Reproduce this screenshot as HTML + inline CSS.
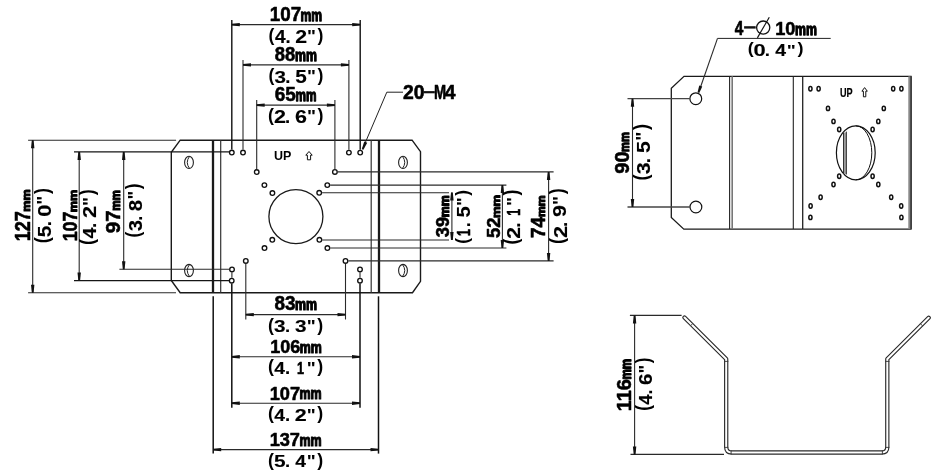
<!DOCTYPE html>
<html><head><meta charset="utf-8"><style>
html,body{margin:0;padding:0;background:#fff;width:948px;height:475px;overflow:hidden}
svg{display:block;filter:grayscale(1)}
text{font-family:"Liberation Sans",sans-serif;font-weight:bold}
</style></head><body>
<svg width="948" height="475" viewBox="0 0 948 475">
<rect width="948" height="475" fill="#fff"/>
<polygon points="180.2,140.2 412.1,140.2 420.5,151.7 420.5,281.4 412.5,292.7 180.2,292.7 171.3,280.5 171.3,152.3" fill="none" stroke="#1a1a1a" stroke-width="1.4"/>
<line x1="213" y1="140.2" x2="213" y2="292.7" stroke="#1a1a1a" stroke-width="2.3"/>
<line x1="220.7" y1="140.2" x2="220.7" y2="292.7" stroke="#333" stroke-width="1.2"/>
<line x1="371.2" y1="140.2" x2="371.2" y2="292.7" stroke="#333" stroke-width="1.2"/>
<line x1="379" y1="140.2" x2="379" y2="292.6" stroke="#1a1a1a" stroke-width="2.3"/>
<ellipse cx="189" cy="162.4" rx="4.4" ry="6.1" fill="none" stroke="#222" stroke-width="1.1"/>
<path d="M189.5,156.4 Q185,162.4 189.5,168.4" fill="none" stroke="#222" stroke-width="1"/>
<ellipse cx="403" cy="162.4" rx="4.4" ry="6.1" fill="none" stroke="#222" stroke-width="1.1"/>
<path d="M402.5,156.4 Q407,162.4 402.5,168.4" fill="none" stroke="#222" stroke-width="1"/>
<ellipse cx="189" cy="270.5" rx="4.4" ry="6.1" fill="none" stroke="#222" stroke-width="1.1"/>
<path d="M189.5,264.5 Q185,270.5 189.5,276.5" fill="none" stroke="#222" stroke-width="1"/>
<ellipse cx="403" cy="270.5" rx="4.4" ry="6.1" fill="none" stroke="#222" stroke-width="1.1"/>
<path d="M402.5,264.5 Q407,270.5 402.5,276.5" fill="none" stroke="#222" stroke-width="1"/>
<circle cx="295.9" cy="216.6" r="27" fill="none" stroke="#1a1a1a" stroke-width="1.3"/>
<circle cx="231.8" cy="152.5" r="2.3" fill="none" stroke="#111" stroke-width="1.35"/>
<circle cx="243" cy="152.5" r="2.3" fill="none" stroke="#111" stroke-width="1.35"/>
<circle cx="348.9" cy="152.6" r="2.3" fill="none" stroke="#111" stroke-width="1.35"/>
<circle cx="360.2" cy="152.6" r="2.3" fill="none" stroke="#111" stroke-width="1.35"/>
<circle cx="256.7" cy="172" r="2.3" fill="none" stroke="#111" stroke-width="1.35"/>
<circle cx="334.9" cy="171.9" r="2.3" fill="none" stroke="#111" stroke-width="1.35"/>
<circle cx="264.4" cy="185.1" r="2.3" fill="none" stroke="#111" stroke-width="1.35"/>
<circle cx="327.3" cy="185.1" r="2.3" fill="none" stroke="#111" stroke-width="1.35"/>
<circle cx="272.4" cy="193" r="2.3" fill="none" stroke="#111" stroke-width="1.35"/>
<circle cx="319.2" cy="192.8" r="2.3" fill="none" stroke="#111" stroke-width="1.35"/>
<circle cx="272.3" cy="239.8" r="2.3" fill="none" stroke="#111" stroke-width="1.35"/>
<circle cx="319.4" cy="239.8" r="2.3" fill="none" stroke="#111" stroke-width="1.35"/>
<circle cx="264.5" cy="248" r="2.3" fill="none" stroke="#111" stroke-width="1.35"/>
<circle cx="327.4" cy="248" r="2.3" fill="none" stroke="#111" stroke-width="1.35"/>
<circle cx="245.8" cy="260.9" r="2.3" fill="none" stroke="#111" stroke-width="1.35"/>
<circle cx="345.5" cy="260.9" r="2.3" fill="none" stroke="#111" stroke-width="1.35"/>
<circle cx="232" cy="269.4" r="2.3" fill="none" stroke="#111" stroke-width="1.35"/>
<circle cx="360" cy="269.4" r="2.3" fill="none" stroke="#111" stroke-width="1.35"/>
<circle cx="231.7" cy="280.7" r="2.3" fill="none" stroke="#111" stroke-width="1.35"/>
<circle cx="360" cy="280.7" r="2.3" fill="none" stroke="#111" stroke-width="1.35"/>
<text transform="translate(274.05,159.76) scale(0.9185,1)" font-size="13.62" fill="#000">UP</text>
<path d="M309,151.5 L305.8,155.2 L307.4,155.2 L307.4,159.8 L310.6,159.8 L310.6,155.2 L312.2,155.2 Z" fill="none" stroke="#111" stroke-width="1.0" stroke-linejoin="miter"/>
<line x1="231.8" y1="20" x2="231.8" y2="149.6" stroke="#111" stroke-width="1.4"/>
<line x1="360.2" y1="20" x2="360.2" y2="149.7" stroke="#111" stroke-width="1.4"/>
<line x1="231.8" y1="24.6" x2="360.2" y2="24.6" stroke="#2a2a2a" stroke-width="1.1"/>
<polygon points="231.80,23.70 239.80,22.90 239.80,26.30 231.80,25.50" fill="#111"/>
<polygon points="360.20,25.50 352.20,26.30 352.20,22.90 360.20,23.70" fill="#111"/>
<text transform="translate(269.80,20.63) scale(0.9527,1)" font-size="19.72" fill="#000" stroke="#000" stroke-width="0.55" vector-effect="non-scaling-stroke" stroke-linejoin="round">107</text>
<text transform="translate(300.56,20.55) scale(0.7030,1)" font-size="17.30" fill="#000" stroke="#000" stroke-width="1.1" vector-effect="non-scaling-stroke" stroke-linejoin="round">mm</text>
<text transform="translate(268.61,40.68) scale(0.9374,1)" font-size="18.87" fill="#000">(</text>
<text transform="translate(274.93,42.66) scale(1.0680,1)" font-size="17.94" fill="#000" stroke="#000" stroke-width="0.15" vector-effect="non-scaling-stroke" stroke-linejoin="round">4</text>
<text transform="translate(285.47,42.66) scale(1.0225,1)" font-size="18.01" fill="#000" stroke="#000" stroke-width="0.15" vector-effect="non-scaling-stroke" stroke-linejoin="round">.</text>
<text transform="translate(295.28,42.66) scale(1.2077,1)" font-size="17.69" fill="#000" stroke="#000" stroke-width="0.15" vector-effect="non-scaling-stroke" stroke-linejoin="round">2</text>
<text transform="translate(307.11,41.87) scale(1.1118,1)" font-size="16.91" fill="#000">&quot;</text>
<text transform="translate(317.60,40.68) scale(0.9374,1)" font-size="18.87" fill="#000">)</text>
<line x1="243" y1="60" x2="243" y2="149.6" stroke="#2a2a2a" stroke-width="1.1"/>
<line x1="348.9" y1="60" x2="348.9" y2="149.7" stroke="#2a2a2a" stroke-width="1.1"/>
<line x1="243" y1="64.9" x2="348.9" y2="64.9" stroke="#2a2a2a" stroke-width="1.1"/>
<polygon points="243.00,64.00 251.00,63.20 251.00,66.60 243.00,65.80" fill="#111"/>
<polygon points="348.90,65.80 340.90,66.60 340.90,63.20 348.90,64.00" fill="#111"/>
<text transform="translate(274.77,60.92) scale(0.9108,1)" font-size="20.28" fill="#000" stroke="#000" stroke-width="0.55" vector-effect="non-scaling-stroke" stroke-linejoin="round">88</text>
<text transform="translate(295.05,60.85) scale(0.7135,1)" font-size="17.30" fill="#000" stroke="#000" stroke-width="1.1" vector-effect="non-scaling-stroke" stroke-linejoin="round">mm</text>
<text transform="translate(268.41,80.98) scale(0.9374,1)" font-size="18.87" fill="#000">(</text>
<text transform="translate(274.56,82.74) scale(1.1861,1)" font-size="17.38" fill="#000" stroke="#000" stroke-width="0.15" vector-effect="non-scaling-stroke" stroke-linejoin="round">3</text>
<text transform="translate(285.27,82.96) scale(1.0225,1)" font-size="18.01" fill="#000" stroke="#000" stroke-width="0.15" vector-effect="non-scaling-stroke" stroke-linejoin="round">.</text>
<text transform="translate(295.15,82.78) scale(1.1711,1)" font-size="17.69" fill="#000" stroke="#000" stroke-width="0.15" vector-effect="non-scaling-stroke" stroke-linejoin="round">5</text>
<text transform="translate(306.91,82.17) scale(1.1118,1)" font-size="16.91" fill="#000">&quot;</text>
<text transform="translate(317.40,80.98) scale(0.9374,1)" font-size="18.87" fill="#000">)</text>
<line x1="256.7" y1="100" x2="256.7" y2="169.1" stroke="#2a2a2a" stroke-width="1.1"/>
<line x1="334.9" y1="100" x2="334.9" y2="169.0" stroke="#2a2a2a" stroke-width="1.1"/>
<line x1="256.7" y1="105.1" x2="334.9" y2="105.1" stroke="#2a2a2a" stroke-width="1.1"/>
<polygon points="256.70,104.20 264.70,103.40 264.70,106.80 256.70,106.00" fill="#111"/>
<polygon points="334.90,106.00 326.90,106.80 326.90,103.40 334.90,104.20" fill="#111"/>
<text transform="translate(274.76,101.13) scale(0.9703,1)" font-size="19.58" fill="#000" stroke="#000" stroke-width="0.55" vector-effect="non-scaling-stroke" stroke-linejoin="round">65</text>
<text transform="translate(295.58,101.05) scale(0.6970,1)" font-size="16.93" fill="#000" stroke="#000" stroke-width="1.1" vector-effect="non-scaling-stroke" stroke-linejoin="round">mm</text>
<text transform="translate(268.11,120.78) scale(0.9461,1)" font-size="18.87" fill="#000">(</text>
<text transform="translate(274.02,122.76) scale(1.2191,1)" font-size="17.69" fill="#000" stroke="#000" stroke-width="0.15" vector-effect="non-scaling-stroke" stroke-linejoin="round">2</text>
<text transform="translate(285.12,122.76) scale(1.0326,1)" font-size="18.01" fill="#000" stroke="#000" stroke-width="0.15" vector-effect="non-scaling-stroke" stroke-linejoin="round">.</text>
<text transform="translate(294.97,122.58) scale(1.2301,1)" font-size="17.44" fill="#000" stroke="#000" stroke-width="0.15" vector-effect="non-scaling-stroke" stroke-linejoin="round">6</text>
<text transform="translate(306.97,121.97) scale(1.1222,1)" font-size="16.91" fill="#000">&quot;</text>
<text transform="translate(317.56,120.78) scale(0.9461,1)" font-size="18.87" fill="#000">)</text>
<line x1="403" y1="92.2" x2="386.8" y2="92.2" stroke="#222" stroke-width="1.0"/>
<line x1="386.8" y1="92.2" x2="363" y2="148" stroke="#222" stroke-width="1.0"/>
<polygon points="361.77,149.15 364.26,141.51 367.21,142.77 363.43,149.85" fill="#111"/>
<text transform="translate(403.00,99.42) scale(0.9355,1)" font-size="20.71" fill="#000" stroke="#000" stroke-width="0.55" vector-effect="non-scaling-stroke" stroke-linejoin="round">20</text>
<line x1="423.5" y1="92.2" x2="434.8" y2="92.2" stroke="#111" stroke-width="2.2"/>
<text transform="translate(434.09,99.42) scale(0.7021,1)" font-size="20.73" fill="#000" stroke="#000" stroke-width="0.55" vector-effect="non-scaling-stroke" stroke-linejoin="round">M</text>
<text transform="translate(444.78,99.42) scale(0.9333,1)" font-size="20.73" fill="#000" stroke="#000" stroke-width="0.55" vector-effect="non-scaling-stroke" stroke-linejoin="round">4</text>
<line x1="28.1" y1="140.2" x2="176.1" y2="140.2" stroke="#2a2a2a" stroke-width="1.1"/>
<line x1="28.1" y1="292.7" x2="176" y2="292.7" stroke="#2a2a2a" stroke-width="1.1"/>
<line x1="74" y1="151.9" x2="229.5" y2="151.9" stroke="#151515" stroke-width="1.3"/>
<line x1="74" y1="280.6" x2="229.4" y2="280.6" stroke="#151515" stroke-width="1.3"/>
<line x1="119.4" y1="269.3" x2="229.7" y2="269.3" stroke="#2a2a2a" stroke-width="1.1"/>
<line x1="32.7" y1="140.2" x2="32.7" y2="292.7" stroke="#2a2a2a" stroke-width="1.1"/>
<polygon points="33.60,140.20 34.40,148.20 31.00,148.20 31.80,140.20" fill="#111"/>
<polygon points="31.80,292.70 31.00,284.70 34.40,284.70 33.60,292.70" fill="#111"/>
<line x1="79.2" y1="151.9" x2="79.2" y2="280.6" stroke="#2a2a2a" stroke-width="1.1"/>
<polygon points="80.10,151.90 80.90,159.90 77.50,159.90 78.30,151.90" fill="#111"/>
<polygon points="78.30,280.60 77.50,272.60 80.90,272.60 80.10,280.60" fill="#111"/>
<line x1="123.7" y1="151.9" x2="123.7" y2="269.3" stroke="#2a2a2a" stroke-width="1.1"/>
<polygon points="124.60,151.90 125.40,159.90 122.00,159.90 122.80,151.90" fill="#111"/>
<polygon points="122.80,269.30 122.00,261.30 125.40,261.30 124.60,269.30" fill="#111"/>
<text transform="rotate(-90) translate(-241.35,30.33) scale(0.8492,1)" font-size="21.29" fill="#000" stroke="#000" stroke-width="0.55" vector-effect="non-scaling-stroke" stroke-linejoin="round">127</text>
<text transform="rotate(-90) translate(-211.77,30.05) scale(1.0912,1)" font-size="11.53" fill="#000" stroke="#000" stroke-width="1.1" vector-effect="non-scaling-stroke" stroke-linejoin="round">mm</text>
<text transform="rotate(-90) translate(-243.29,48.68) scale(0.8951,1)" font-size="19.84" fill="#000">(</text>
<text transform="rotate(-90) translate(-237.33,50.58) scale(1.1176,1)" font-size="18.60" fill="#000" stroke="#000" stroke-width="0.15" vector-effect="non-scaling-stroke" stroke-linejoin="round">5</text>
<text transform="rotate(-90) translate(-226.37,50.76) scale(0.9740,1)" font-size="18.98" fill="#000" stroke="#000" stroke-width="0.15" vector-effect="non-scaling-stroke" stroke-linejoin="round">.</text>
<text transform="rotate(-90) translate(-216.64,50.58) scale(1.1814,1)" font-size="18.34" fill="#000" stroke="#000" stroke-width="0.15" vector-effect="non-scaling-stroke" stroke-linejoin="round">0</text>
<text transform="rotate(-90) translate(-204.65,49.93) scale(1.0617,1)" font-size="17.78" fill="#000">&quot;</text>
<text transform="rotate(-90) translate(-194.12,48.68) scale(0.8951,1)" font-size="19.84" fill="#000">)</text>
<text transform="rotate(-90) translate(-241.34,77.42) scale(0.8727,1)" font-size="20.42" fill="#000" stroke="#000" stroke-width="0.55" vector-effect="non-scaling-stroke" stroke-linejoin="round">107</text>
<text transform="rotate(-90) translate(-212.27,77.35) scale(1.1330,1)" font-size="11.16" fill="#000" stroke="#000" stroke-width="1.1" vector-effect="non-scaling-stroke" stroke-linejoin="round">mm</text>
<text transform="rotate(-90) translate(-245.00,94.35) scale(0.9183,1)" font-size="19.52" fill="#000">(</text>
<text transform="rotate(-90) translate(-238.59,96.39) scale(1.0460,1)" font-size="18.56" fill="#000" stroke="#000" stroke-width="0.15" vector-effect="non-scaling-stroke" stroke-linejoin="round">4</text>
<text transform="rotate(-90) translate(-227.92,96.39) scale(1.0006,1)" font-size="18.66" fill="#000" stroke="#000" stroke-width="0.15" vector-effect="non-scaling-stroke" stroke-linejoin="round">.</text>
<text transform="rotate(-90) translate(-217.98,96.39) scale(1.1828,1)" font-size="18.30" fill="#000" stroke="#000" stroke-width="0.15" vector-effect="non-scaling-stroke" stroke-linejoin="round">2</text>
<text transform="rotate(-90) translate(-205.99,95.58) scale(1.0892,1)" font-size="17.49" fill="#000">&quot;</text>
<text transform="rotate(-90) translate(-195.36,94.35) scale(0.9183,1)" font-size="19.52" fill="#000">)</text>
<text transform="rotate(-90) translate(-233.15,120.03) scale(1.0640,1)" font-size="19.43" fill="#000" stroke="#000" stroke-width="0.55" vector-effect="non-scaling-stroke" stroke-linejoin="round">97</text>
<text transform="rotate(-90) translate(-210.81,119.95) scale(0.9758,1)" font-size="11.91" fill="#000" stroke="#000" stroke-width="1.1" vector-effect="non-scaling-stroke" stroke-linejoin="round">mm</text>
<text transform="rotate(-90) translate(-237.38,139.68) scale(0.8752,1)" font-size="19.84" fill="#000">(</text>
<text transform="rotate(-90) translate(-231.35,141.53) scale(1.1064,1)" font-size="18.28" fill="#000" stroke="#000" stroke-width="0.15" vector-effect="non-scaling-stroke" stroke-linejoin="round">3</text>
<text transform="rotate(-90) translate(-220.83,141.76) scale(0.9511,1)" font-size="18.98" fill="#000" stroke="#000" stroke-width="0.15" vector-effect="non-scaling-stroke" stroke-linejoin="round">.</text>
<text transform="rotate(-90) translate(-211.14,141.58) scale(1.1137,1)" font-size="18.34" fill="#000" stroke="#000" stroke-width="0.15" vector-effect="non-scaling-stroke" stroke-linejoin="round">8</text>
<text transform="rotate(-90) translate(-199.59,140.93) scale(1.0380,1)" font-size="17.78" fill="#000">&quot;</text>
<text transform="rotate(-90) translate(-189.30,139.68) scale(0.8752,1)" font-size="19.84" fill="#000">)</text>
<line x1="337.8" y1="171.9" x2="553.6" y2="171.9" stroke="#2a2a2a" stroke-width="1.1"/>
<line x1="348.40000000000003" y1="260.9" x2="553.6" y2="260.9" stroke="#2a2a2a" stroke-width="1.1"/>
<line x1="330.20000000000005" y1="185.1" x2="506.4" y2="185.1" stroke="#2a2a2a" stroke-width="1.1"/>
<line x1="330.3" y1="248" x2="506.4" y2="248" stroke="#2a2a2a" stroke-width="1.1"/>
<line x1="322.1" y1="192.7" x2="449" y2="192.7" stroke="#2a2a2a" stroke-width="1.1"/>
<line x1="322.3" y1="240" x2="449" y2="240" stroke="#2a2a2a" stroke-width="1.1"/>
<line x1="451.9" y1="192.6" x2="451.9" y2="239.9" stroke="#2a2a2a" stroke-width="1.1"/>
<polygon points="452.80,192.60 453.60,200.60 450.20,200.60 451.00,192.60" fill="#111"/>
<polygon points="451.00,239.90 450.20,231.90 453.60,231.90 452.80,239.90" fill="#111"/>
<line x1="502.4" y1="185.1" x2="502.4" y2="248" stroke="#2a2a2a" stroke-width="1.1"/>
<polygon points="503.30,185.10 504.10,193.10 500.70,193.10 501.50,185.10" fill="#111"/>
<polygon points="501.50,248.00 500.70,240.00 504.10,240.00 503.30,248.00" fill="#111"/>
<line x1="548.6" y1="171.9" x2="548.6" y2="260.9" stroke="#2a2a2a" stroke-width="1.1"/>
<polygon points="549.50,171.90 550.30,179.90 546.90,179.90 547.70,171.90" fill="#111"/>
<polygon points="547.70,260.90 546.90,252.90 550.30,252.90 549.50,260.90" fill="#111"/>
<text transform="rotate(-90) translate(-237.14,448.71) scale(1.0430,1)" font-size="17.54" fill="#000" stroke="#000" stroke-width="0.55" vector-effect="non-scaling-stroke" stroke-linejoin="round">39</text>
<text transform="rotate(-90) translate(-217.26,448.65) scale(1.0308,1)" font-size="12.09" fill="#000" stroke="#000" stroke-width="1.1" vector-effect="non-scaling-stroke" stroke-linejoin="round">mm</text>
<text transform="rotate(-90) translate(-243.78,467.84) scale(0.9096,1)" font-size="19.09" fill="#000">(</text>
<text transform="rotate(-90) translate(-235.89,469.66) scale(0.6976,1)" font-size="17.64" fill="#000" stroke="#000" stroke-width="0.5" vector-effect="non-scaling-stroke" stroke-linejoin="round">1</text>
<text transform="rotate(-90) translate(-227.23,469.84) scale(0.9905,1)" font-size="18.23" fill="#000" stroke="#000" stroke-width="0.15" vector-effect="non-scaling-stroke" stroke-linejoin="round">.</text>
<text transform="rotate(-90) translate(-217.53,469.66) scale(1.1359,1)" font-size="17.89" fill="#000" stroke="#000" stroke-width="0.15" vector-effect="non-scaling-stroke" stroke-linejoin="round">5</text>
<text transform="rotate(-90) translate(-205.99,469.04) scale(1.0789,1)" font-size="17.10" fill="#000">&quot;</text>
<text transform="rotate(-90) translate(-195.70,467.84) scale(0.9096,1)" font-size="19.09" fill="#000">)</text>
<text transform="rotate(-90) translate(-237.92,500.04) scale(0.9931,1)" font-size="18.59" fill="#000" stroke="#000" stroke-width="0.55" vector-effect="non-scaling-stroke" stroke-linejoin="round">52</text>
<text transform="rotate(-90) translate(-218.00,499.95) scale(1.1332,1)" font-size="11.53" fill="#000" stroke="#000" stroke-width="1.1" vector-effect="non-scaling-stroke" stroke-linejoin="round">mm</text>
<text transform="rotate(-90) translate(-244.49,517.79) scale(0.9149,1)" font-size="19.30" fill="#000">(</text>
<text transform="rotate(-90) translate(-238.64,519.81) scale(1.1783,1)" font-size="18.09" fill="#000" stroke="#000" stroke-width="0.15" vector-effect="non-scaling-stroke" stroke-linejoin="round">2</text>
<text transform="rotate(-90) translate(-227.66,519.81) scale(0.9966,1)" font-size="18.44" fill="#000" stroke="#000" stroke-width="0.15" vector-effect="non-scaling-stroke" stroke-linejoin="round">.</text>
<text transform="rotate(-90) translate(-215.71,519.64) scale(0.7023,1)" font-size="17.85" fill="#000" stroke="#000" stroke-width="0.5" vector-effect="non-scaling-stroke" stroke-linejoin="round">1</text>
<text transform="rotate(-90) translate(-206.06,519.01) scale(1.0851,1)" font-size="17.30" fill="#000">&quot;</text>
<text transform="rotate(-90) translate(-195.59,517.79) scale(0.9149,1)" font-size="19.30" fill="#000">)</text>
<text transform="rotate(-90) translate(-238.03,545.33) scale(0.9169,1)" font-size="20.58" fill="#000" stroke="#000" stroke-width="0.55" vector-effect="non-scaling-stroke" stroke-linejoin="round">74</text>
<text transform="rotate(-90) translate(-216.94,545.05) scale(1.1887,1)" font-size="10.23" fill="#000" stroke="#000" stroke-width="1.1" vector-effect="non-scaling-stroke" stroke-linejoin="round">mm</text>
<text transform="rotate(-90) translate(-244.00,564.48) scale(0.9034,1)" font-size="19.84" fill="#000">(</text>
<text transform="rotate(-90) translate(-238.06,566.56) scale(1.1634,1)" font-size="18.60" fill="#000" stroke="#000" stroke-width="0.15" vector-effect="non-scaling-stroke" stroke-linejoin="round">2</text>
<text transform="rotate(-90) translate(-226.92,566.56) scale(0.9835,1)" font-size="18.98" fill="#000" stroke="#000" stroke-width="0.15" vector-effect="non-scaling-stroke" stroke-linejoin="round">.</text>
<text transform="rotate(-90) translate(-216.98,566.38) scale(1.1679,1)" font-size="18.34" fill="#000" stroke="#000" stroke-width="0.15" vector-effect="non-scaling-stroke" stroke-linejoin="round">9</text>
<text transform="rotate(-90) translate(-204.99,565.73) scale(1.0715,1)" font-size="17.78" fill="#000">&quot;</text>
<text transform="rotate(-90) translate(-194.36,564.48) scale(0.9034,1)" font-size="19.84" fill="#000">)</text>
<line x1="213.2" y1="296.3" x2="213.2" y2="453.6" stroke="#111" stroke-width="1.5"/>
<line x1="378.5" y1="296.3" x2="378.5" y2="453.6" stroke="#111" stroke-width="1.5"/>
<line x1="245.8" y1="263.8" x2="245.8" y2="319.5" stroke="#2a2a2a" stroke-width="1.1"/>
<line x1="345.5" y1="263.8" x2="345.5" y2="319.5" stroke="#2a2a2a" stroke-width="1.1"/>
<line x1="231.8" y1="283.6" x2="231.8" y2="407.8" stroke="#111" stroke-width="1.5"/>
<line x1="360" y1="283.6" x2="360" y2="407.8" stroke="#111" stroke-width="1.5"/>
<line x1="231.9" y1="272.3" x2="231.9" y2="277.79999999999995" stroke="#2a2a2a" stroke-width="1.1"/>
<line x1="360" y1="272.3" x2="360" y2="277.79999999999995" stroke="#2a2a2a" stroke-width="1.1"/>
<line x1="245.8" y1="314.6" x2="345.5" y2="314.6" stroke="#2a2a2a" stroke-width="1.1"/>
<polygon points="245.80,313.70 253.80,312.90 253.80,316.30 245.80,315.50" fill="#111"/>
<polygon points="345.50,315.50 337.50,316.30 337.50,312.90 345.50,313.70" fill="#111"/>
<line x1="231.8" y1="356.8" x2="360" y2="356.8" stroke="#2a2a2a" stroke-width="1.1"/>
<polygon points="231.80,355.90 239.80,355.10 239.80,358.50 231.80,357.70" fill="#111"/>
<polygon points="360.00,357.70 352.00,358.50 352.00,355.10 360.00,355.90" fill="#111"/>
<line x1="231.8" y1="403.2" x2="360" y2="403.2" stroke="#2a2a2a" stroke-width="1.1"/>
<polygon points="231.80,402.30 239.80,401.50 239.80,404.90 231.80,404.10" fill="#111"/>
<polygon points="360.00,404.10 352.00,404.90 352.00,401.50 360.00,402.30" fill="#111"/>
<line x1="213.2" y1="449.6" x2="378.5" y2="449.6" stroke="#2a2a2a" stroke-width="1.1"/>
<polygon points="213.20,448.70 221.20,447.90 221.20,451.30 213.20,450.50" fill="#111"/>
<polygon points="378.50,450.50 370.50,451.30 370.50,447.90 378.50,448.70" fill="#111"/>
<text transform="translate(274.46,310.48) scale(0.9712,1)" font-size="19.51" fill="#000" stroke="#000" stroke-width="0.55" vector-effect="non-scaling-stroke" stroke-linejoin="round">83</text>
<text transform="translate(295.04,310.45) scale(0.7492,1)" font-size="16.56" fill="#000" stroke="#000" stroke-width="1.1" vector-effect="non-scaling-stroke" stroke-linejoin="round">mm</text>
<text transform="translate(267.91,330.52) scale(0.9777,1)" font-size="18.23" fill="#000">(</text>
<text transform="translate(274.10,332.21) scale(1.2377,1)" font-size="16.78" fill="#000" stroke="#000" stroke-width="0.15" vector-effect="non-scaling-stroke" stroke-linejoin="round">3</text>
<text transform="translate(284.89,332.42) scale(1.0691,1)" font-size="17.36" fill="#000" stroke="#000" stroke-width="0.15" vector-effect="non-scaling-stroke" stroke-linejoin="round">.</text>
<text transform="translate(295.06,332.21) scale(1.2377,1)" font-size="16.78" fill="#000" stroke="#000" stroke-width="0.15" vector-effect="non-scaling-stroke" stroke-linejoin="round">3</text>
<text transform="translate(306.70,331.66) scale(1.1596,1)" font-size="16.34" fill="#000">&quot;</text>
<text transform="translate(317.27,330.52) scale(0.9777,1)" font-size="18.23" fill="#000">)</text>
<text transform="translate(270.15,353.03) scale(0.9465,1)" font-size="19.01" fill="#000" stroke="#000" stroke-width="0.55" vector-effect="non-scaling-stroke" stroke-linejoin="round">106</text>
<text transform="translate(299.74,352.95) scale(0.7492,1)" font-size="16.56" fill="#000" stroke="#000" stroke-width="1.1" vector-effect="non-scaling-stroke" stroke-linejoin="round">mm</text>
<text transform="translate(267.91,372.49) scale(0.9720,1)" font-size="18.34" fill="#000">(</text>
<text transform="translate(274.27,374.41) scale(1.1079,1)" font-size="17.43" fill="#000" stroke="#000" stroke-width="0.15" vector-effect="non-scaling-stroke" stroke-linejoin="round">4</text>
<text transform="translate(284.89,374.41) scale(1.0625,1)" font-size="17.47" fill="#000" stroke="#000" stroke-width="0.15" vector-effect="non-scaling-stroke" stroke-linejoin="round">.</text>
<text transform="translate(296.95,374.23) scale(0.7484,1)" font-size="16.92" fill="#000" stroke="#000" stroke-width="0.5" vector-effect="non-scaling-stroke" stroke-linejoin="round">1</text>
<text transform="translate(306.70,373.65) scale(1.1529,1)" font-size="16.43" fill="#000">&quot;</text>
<text transform="translate(317.27,372.49) scale(0.9720,1)" font-size="18.34" fill="#000">)</text>
<text transform="translate(269.64,399.53) scale(0.9578,1)" font-size="19.01" fill="#000" stroke="#000" stroke-width="0.55" vector-effect="non-scaling-stroke" stroke-linejoin="round">107</text>
<text transform="translate(299.54,399.45) scale(0.7529,1)" font-size="16.56" fill="#000" stroke="#000" stroke-width="1.1" vector-effect="non-scaling-stroke" stroke-linejoin="round">mm</text>
<text transform="translate(267.91,419.49) scale(0.9720,1)" font-size="18.34" fill="#000">(</text>
<text transform="translate(274.27,421.41) scale(1.1079,1)" font-size="17.43" fill="#000" stroke="#000" stroke-width="0.15" vector-effect="non-scaling-stroke" stroke-linejoin="round">4</text>
<text transform="translate(284.89,421.41) scale(1.0625,1)" font-size="17.47" fill="#000" stroke="#000" stroke-width="0.15" vector-effect="non-scaling-stroke" stroke-linejoin="round">.</text>
<text transform="translate(294.77,421.41) scale(1.2528,1)" font-size="17.18" fill="#000" stroke="#000" stroke-width="0.15" vector-effect="non-scaling-stroke" stroke-linejoin="round">2</text>
<text transform="translate(306.70,420.65) scale(1.1529,1)" font-size="16.43" fill="#000">&quot;</text>
<text transform="translate(317.27,419.49) scale(0.9720,1)" font-size="18.34" fill="#000">)</text>
<text transform="translate(269.64,445.79) scale(0.9612,1)" font-size="18.94" fill="#000" stroke="#000" stroke-width="0.55" vector-effect="non-scaling-stroke" stroke-linejoin="round">137</text>
<text transform="translate(299.54,445.75) scale(0.7529,1)" font-size="16.56" fill="#000" stroke="#000" stroke-width="1.1" vector-effect="non-scaling-stroke" stroke-linejoin="round">mm</text>
<text transform="translate(267.91,465.52) scale(0.9777,1)" font-size="18.23" fill="#000">(</text>
<text transform="translate(273.89,467.25) scale(1.2221,1)" font-size="17.08" fill="#000" stroke="#000" stroke-width="0.15" vector-effect="non-scaling-stroke" stroke-linejoin="round">5</text>
<text transform="translate(284.89,467.42) scale(1.0691,1)" font-size="17.36" fill="#000" stroke="#000" stroke-width="0.15" vector-effect="non-scaling-stroke" stroke-linejoin="round">.</text>
<text transform="translate(295.24,467.42) scale(1.1145,1)" font-size="17.33" fill="#000" stroke="#000" stroke-width="0.15" vector-effect="non-scaling-stroke" stroke-linejoin="round">4</text>
<text transform="translate(306.70,466.66) scale(1.1596,1)" font-size="16.34" fill="#000">&quot;</text>
<text transform="translate(317.27,465.52) scale(0.9777,1)" font-size="18.23" fill="#000">)</text>
<polygon points="684,76.3 911,76.3 911,229.1 683.8,229.1 671.3,217.4 671.3,88.3" fill="none" stroke="#1a1a1a" stroke-width="1.3"/>
<rect x="908.3" y="76.3" width="2.6" height="152.8" fill="#888"/>
<line x1="911" y1="76.3" x2="911" y2="229.1" stroke="#222" stroke-width="1.1"/>
<line x1="729.6" y1="76.3" x2="729.6" y2="229.1" stroke="#222" stroke-width="1.1"/>
<line x1="732.2" y1="76.3" x2="732.2" y2="229.1" stroke="#777" stroke-width="1.6"/>
<line x1="793.3" y1="76.3" x2="793.3" y2="229.1" stroke="#222" stroke-width="1.1"/>
<line x1="802.7" y1="76.3" x2="802.7" y2="229.1" stroke="#222" stroke-width="1.3"/>
<circle cx="695.8" cy="98.7" r="5.9" fill="none" stroke="#111" stroke-width="1.2"/>
<circle cx="695.9" cy="207" r="5.9" fill="none" stroke="#111" stroke-width="1.2"/>
<line x1="627.5" y1="98.7" x2="689.8" y2="98.7" stroke="#444" stroke-width="1.3"/>
<line x1="627.5" y1="207" x2="689.9" y2="207" stroke="#444" stroke-width="1.3"/>
<line x1="632.5" y1="98.7" x2="632.5" y2="207" stroke="#2a2a2a" stroke-width="1.1"/>
<polygon points="633.40,98.70 634.20,106.70 630.80,106.70 631.60,98.70" fill="#111"/>
<polygon points="631.60,207.00 630.80,199.00 634.20,199.00 633.40,207.00" fill="#111"/>
<text transform="rotate(-90) translate(-173.63,628.81) scale(0.9488,1)" font-size="21.13" fill="#000" stroke="#000" stroke-width="0.55" vector-effect="non-scaling-stroke" stroke-linejoin="round">90</text>
<text transform="rotate(-90) translate(-151.88,628.75) scale(0.8643,1)" font-size="13.02" fill="#000" stroke="#000" stroke-width="1.1" vector-effect="non-scaling-stroke" stroke-linejoin="round">mm</text>
<text transform="rotate(-90) translate(-180.50,648.13) scale(0.9284,1)" font-size="19.62" fill="#000">(</text>
<text transform="rotate(-90) translate(-174.18,649.96) scale(1.1746,1)" font-size="18.08" fill="#000" stroke="#000" stroke-width="0.15" vector-effect="non-scaling-stroke" stroke-linejoin="round">3</text>
<text transform="rotate(-90) translate(-163.15,650.18) scale(1.0123,1)" font-size="18.77" fill="#000" stroke="#000" stroke-width="0.15" vector-effect="non-scaling-stroke" stroke-linejoin="round">.</text>
<text transform="rotate(-90) translate(-152.97,650.00) scale(1.1598,1)" font-size="18.40" fill="#000" stroke="#000" stroke-width="0.15" vector-effect="non-scaling-stroke" stroke-linejoin="round">5</text>
<text transform="rotate(-90) translate(-140.86,649.36) scale(1.1012,1)" font-size="17.58" fill="#000">&quot;</text>
<text transform="rotate(-90) translate(-130.05,648.13) scale(0.9284,1)" font-size="19.62" fill="#000">)</text>
<line x1="717.5" y1="38.4" x2="830.7" y2="38.4" stroke="#222" stroke-width="1.0"/>
<line x1="717.5" y1="38.4" x2="699.5" y2="90" stroke="#2a2a2a" stroke-width="1.1"/>
<polygon points="697.55,92.30 699.25,85.48 702.26,86.56 699.25,92.90" fill="#111"/>
<text transform="translate(734.74,35.12) scale(0.7767,1)" font-size="19.85" fill="#000" stroke="#000" stroke-width="0.55" vector-effect="non-scaling-stroke" stroke-linejoin="round">4</text>
<line x1="744.1" y1="27.4" x2="755.7" y2="27.4" stroke="#111" stroke-width="2.4"/>
<circle cx="763.2" cy="27.6" r="6.6" fill="none" stroke="#111" stroke-width="1.3"/>
<line x1="757.4" y1="37.9" x2="769.3" y2="17.2" stroke="#111" stroke-width="1.2"/>
<text transform="translate(775.24,34.93) scale(0.9440,1)" font-size="19.29" fill="#000" stroke="#000" stroke-width="0.55" vector-effect="non-scaling-stroke" stroke-linejoin="round">10</text>
<text transform="translate(795.05,34.85) scale(0.7135,1)" font-size="17.30" fill="#000" stroke="#000" stroke-width="1.1" vector-effect="non-scaling-stroke" stroke-linejoin="round">mm</text>
<text transform="translate(747.70,54.00) scale(1.0355,1)" font-size="17.37" fill="#000">(</text>
<text transform="translate(753.54,55.65) scale(1.3692,1)" font-size="16.03" fill="#000" stroke="#000" stroke-width="0.15" vector-effect="non-scaling-stroke" stroke-linejoin="round">0</text>
<text transform="translate(764.84,55.81) scale(1.1360,1)" font-size="16.50" fill="#000" stroke="#000" stroke-width="0.15" vector-effect="non-scaling-stroke" stroke-linejoin="round">.</text>
<text transform="translate(775.28,55.81) scale(1.1812,1)" font-size="16.50" fill="#000" stroke="#000" stroke-width="0.15" vector-effect="non-scaling-stroke" stroke-linejoin="round">4</text>
<text transform="translate(786.85,55.09) scale(1.2282,1)" font-size="15.57" fill="#000">&quot;</text>
<text transform="translate(797.52,54.00) scale(1.0355,1)" font-size="17.37" fill="#000">)</text>
<ellipse cx="810.4" cy="88.8" rx="1.6" ry="2.2" fill="none" stroke="#111" stroke-width="1.5"/>
<ellipse cx="818.6" cy="88.8" rx="1.6" ry="2.2" fill="none" stroke="#111" stroke-width="1.5"/>
<ellipse cx="893.2" cy="88.8" rx="1.6" ry="2.2" fill="none" stroke="#111" stroke-width="1.5"/>
<ellipse cx="901.4" cy="88.8" rx="1.6" ry="2.2" fill="none" stroke="#111" stroke-width="1.5"/>
<ellipse cx="828" cy="108.4" rx="1.6" ry="2.2" fill="none" stroke="#111" stroke-width="1.5"/>
<ellipse cx="883.8" cy="108.4" rx="1.6" ry="2.2" fill="none" stroke="#111" stroke-width="1.5"/>
<ellipse cx="833.5" cy="121.4" rx="1.6" ry="2.2" fill="none" stroke="#111" stroke-width="1.5"/>
<ellipse cx="878.3" cy="121.4" rx="1.6" ry="2.2" fill="none" stroke="#111" stroke-width="1.5"/>
<ellipse cx="839.2" cy="129.5" rx="1.6" ry="2.2" fill="none" stroke="#111" stroke-width="1.5"/>
<ellipse cx="872.6" cy="129.5" rx="1.6" ry="2.2" fill="none" stroke="#111" stroke-width="1.5"/>
<ellipse cx="839.2" cy="176.3" rx="1.6" ry="2.2" fill="none" stroke="#111" stroke-width="1.5"/>
<ellipse cx="872.6" cy="176.3" rx="1.6" ry="2.2" fill="none" stroke="#111" stroke-width="1.5"/>
<ellipse cx="833.5" cy="184.5" rx="1.6" ry="2.2" fill="none" stroke="#111" stroke-width="1.5"/>
<ellipse cx="878.3" cy="184.5" rx="1.6" ry="2.2" fill="none" stroke="#111" stroke-width="1.5"/>
<ellipse cx="820.6" cy="197.2" rx="1.6" ry="2.2" fill="none" stroke="#111" stroke-width="1.5"/>
<ellipse cx="891.2" cy="197.2" rx="1.6" ry="2.2" fill="none" stroke="#111" stroke-width="1.5"/>
<ellipse cx="810.6" cy="206" rx="1.6" ry="2.2" fill="none" stroke="#111" stroke-width="1.5"/>
<ellipse cx="901.2" cy="206" rx="1.6" ry="2.2" fill="none" stroke="#111" stroke-width="1.5"/>
<ellipse cx="810.4" cy="217.4" rx="1.6" ry="2.2" fill="none" stroke="#111" stroke-width="1.5"/>
<ellipse cx="901.4" cy="217.4" rx="1.6" ry="2.2" fill="none" stroke="#111" stroke-width="1.5"/>
<text transform="translate(840.05,96.77) scale(0.6834,1)" font-size="13.33" fill="#000" stroke="#000" stroke-width="0.2" vector-effect="non-scaling-stroke" stroke-linejoin="round">UP</text>
<path d="M864.6,87.6 L861.9,91.2 L863.4,91.2 L863.4,96.8 L865.8,96.8 L865.8,91.2 L867.3,91.2 Z" fill="none" stroke="#111" stroke-width="1"/>
<ellipse cx="855.8" cy="152.8" rx="19.4" ry="27" fill="none" stroke="#111" stroke-width="1.2"/>
<path d="M855.8,125.8 A16,27 0 0 1 855.8,179.8" fill="none" stroke="#111" stroke-width="1.0"/>
<rect x="843.6" y="132.5" width="2.8" height="41.5" fill="#aaa"/>
<line x1="843.6" y1="132.5" x2="843.6" y2="174" stroke="#222" stroke-width="1.0"/>
<line x1="846.3" y1="131.6" x2="846.3" y2="174.5" stroke="#222" stroke-width="1.0"/>
<path d="M684.5,317.5 L726.2,359 L726.2,447 Q726.2,452.5 731.7,452.5 L881.8,452.5 Q887.3,452.5 887.3,447 L887.3,359 L928.7,317.8" fill="none" stroke="#2a2a2a" stroke-width="4.3" stroke-linecap="round" stroke-linejoin="round"/>
<path d="M684.5,317.5 L726.2,359 L726.2,447 Q726.2,452.5 731.7,452.5 L881.8,452.5 Q887.3,452.5 887.3,447 L887.3,359 L928.7,317.8" fill="none" stroke="#fff" stroke-width="2.0" stroke-linecap="round" stroke-linejoin="round"/>
<line x1="692.528" y1="323.76559999999995" x2="690.2719999999999" y2="326.0344" stroke="#444" stroke-width="1.0"/>
<line x1="920.472" y1="323.76559999999995" x2="922.7280000000001" y2="326.0344" stroke="#444" stroke-width="1.0"/>
<line x1="885.3" y1="447.4" x2="889.4" y2="447.4" stroke="#333" stroke-width="0.9"/>
<line x1="882.4" y1="450.4" x2="882.4" y2="454.5" stroke="#333" stroke-width="0.9"/>
<line x1="724.2" y1="361.4" x2="728.3" y2="361.4" stroke="#333" stroke-width="0.9"/>
<line x1="885.3" y1="361.4" x2="889.4" y2="361.4" stroke="#333" stroke-width="0.9"/>
<line x1="724.2" y1="447.4" x2="728.3" y2="447.4" stroke="#333" stroke-width="0.9"/>
<line x1="731.1" y1="450.4" x2="731.1" y2="454.5" stroke="#333" stroke-width="0.9"/>
<line x1="629.9" y1="315.4" x2="681.6" y2="315.4" stroke="#2a2a2a" stroke-width="1.1"/>
<line x1="630.5" y1="454.4" x2="724" y2="454.4" stroke="#2a2a2a" stroke-width="1.1"/>
<line x1="634.6" y1="315.4" x2="634.6" y2="454.4" stroke="#2a2a2a" stroke-width="1.1"/>
<polygon points="635.50,315.40 636.30,323.40 632.90,323.40 633.70,315.40" fill="#111"/>
<polygon points="633.70,454.40 632.90,446.40 636.30,446.40 635.50,454.40" fill="#111"/>
<text transform="rotate(-90) translate(-411.27,631.42) scale(0.9709,1)" font-size="20.57" fill="#000" stroke="#000" stroke-width="0.55" vector-effect="non-scaling-stroke" stroke-linejoin="round">116</text>
<text transform="rotate(-90) translate(-379.51,631.35) scale(0.8048,1)" font-size="14.51" fill="#000" stroke="#000" stroke-width="1.1" vector-effect="non-scaling-stroke" stroke-linejoin="round">mm</text>
<text transform="rotate(-90) translate(-410.87,650.38) scale(0.8652,1)" font-size="19.84" fill="#000">(</text>
<text transform="rotate(-90) translate(-404.74,652.46) scale(0.9847,1)" font-size="18.87" fill="#000" stroke="#000" stroke-width="0.15" vector-effect="non-scaling-stroke" stroke-linejoin="round">4</text>
<text transform="rotate(-90) translate(-394.51,652.46) scale(0.9396,1)" font-size="18.98" fill="#000" stroke="#000" stroke-width="0.15" vector-effect="non-scaling-stroke" stroke-linejoin="round">.</text>
<text transform="rotate(-90) translate(-385.04,652.28) scale(1.1236,1)" font-size="18.34" fill="#000" stroke="#000" stroke-width="0.15" vector-effect="non-scaling-stroke" stroke-linejoin="round">6</text>
<text transform="rotate(-90) translate(-373.52,651.63) scale(1.0262,1)" font-size="17.78" fill="#000">&quot;</text>
<text transform="rotate(-90) translate(-363.34,650.38) scale(0.8652,1)" font-size="19.84" fill="#000">)</text>
</svg></body></html>
